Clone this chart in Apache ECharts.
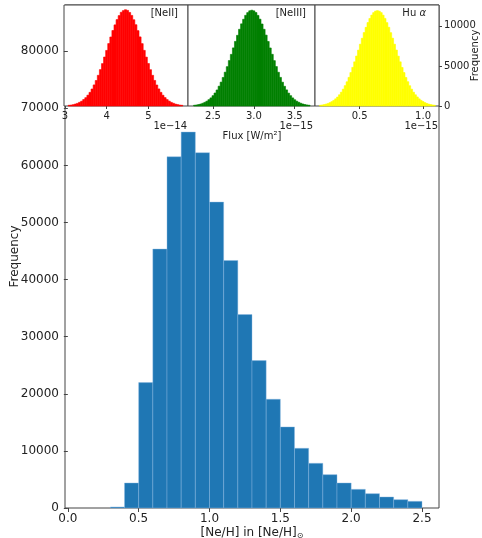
<!DOCTYPE html>
<html>
<head>
<meta charset="utf-8">
<script src="https://cdn.jsdelivr.net/npm/echarts@6/dist/echarts.min.js"></script>
<style>
  html, body { margin: 0; padding: 0; background: #fff; }
  #chart { width: 482px; height: 538px; }
</style>
</head>
<body>
<div id="chart"></div>
<script>
// Neon abundance posterior, [Ne/H] in solar units (bins of 0.1 starting at 0.3)
const abundanceBinStart = 0.3;
const abundanceBinWidth = 0.1;
const abundanceCounts = [180, 4380, 21960, 45350, 61520, 65850, 62230, 53580, 43350, 33890, 25820,
  19050, 14200, 10460, 7830, 5840, 4380, 3270, 2510, 1930, 1460, 1170];
const abundanceTicks = [0, 0.5, 1.0, 1.5, 2.0, 2.5];
const frequencyTicks = [0, 10000, 20000, 30000, 40000, 50000, 60000, 70000, 80000];

// Flux samples of [NeII], units of 1e-14 W/m^2
const neIIBinStart = 3.075;
const neIIBinWidth = 0.05;
const neIICounts = [90, 120, 170, 250, 330, 460, 600, 810, 1040, 1350, 1700, 2120, 2630, 3180, 3830,
  4540, 5290, 6110, 6930, 7790, 8610, 9420, 10120, 10780, 11280, 11690, 11900, 12010, 11930, 11670,
  11300, 10760, 10140, 9400, 8620, 7780, 6940, 6100, 5300, 4530, 3830, 3190, 2620, 2130, 1700, 1340,
  1050, 800, 610, 450, 340, 240, 180, 120, 90];
const neIITicks = [3, 4, 5];

// Flux samples of [NeIII], units of 1e-15 W/m^2
const neIIIBinStart = 2.2625;
const neIIIBinWidth = 0.025;
const neIIICounts = [95, 130, 185, 250, 340, 455, 600, 790, 1010, 1290, 1620, 2000, 2470, 2980, 3560,
  4220, 4910, 5670, 6440, 7250, 8060, 8820, 9570, 10250, 10820, 11310, 11650, 11880, 11950, 11870,
  11660, 11300, 10830, 10230, 9570, 8840, 8050, 7240, 6450, 5660, 4920, 4210, 3570, 2970, 2460, 2010,
  1610, 1290, 1010, 780, 600, 460, 340, 250, 180, 130, 95];
const neIIITicks = [2.5, 3.0, 3.5];

// Flux samples of the hydrogen line, units of 1e-15 W/m^2
const hLineBinStart = 0.1825;
const hLineBinWidth = 0.015;
const hLineCounts = [95, 130, 180, 240, 320, 420, 545, 700, 895, 1120, 1400, 1725, 2100, 2540, 3020,
  3570, 4170, 4820, 5510, 6230, 6970, 7710, 8450, 9160, 9810, 10410, 10920, 11340, 11650, 11840, 11900,
  11830, 11650, 11330, 10930, 10400, 9820, 9150, 8460, 7710, 6980, 6220, 5510, 4810, 4170, 3560, 3030,
  2530, 2100, 1720, 1400, 1130, 890, 700, 550, 420, 320, 240, 180, 130, 95];
const hLineTicks = [0.5, 1.0];
const insetFrequencyTicks = [0, 5000, 10000];

// [left edge, right edge, count] rows for the histogram renderer
function toBins(start, width, counts) {
  return counts.map((c, i) => [start + i * width, start + (i + 1) * width, c]);
}

function renderBin(params, api) {
  const top = api.coord([api.value(0), api.value(2)]);
  const base = api.coord([api.value(1), 0]);
  return {
    type: 'rect',
    shape: { x: top[0], y: top[1], width: base[0] - top[0], height: base[1] - top[1] },
    style: api.style()
  };
}

const FONT = 'DejaVu Sans';
const TXT = '#222';
const FRAME = '#444';
const plain = v => String(v);

function tickCfg(values, len) {
  return { show: true, customValues: values, length: len, lineStyle: { color: FRAME, width: 1 } };
}

function insetX(idx, min, max, ticks, fmt) {
  return {
    type: 'value', gridIndex: idx, min: min, max: max,
    axisLine: { show: false }, splitLine: { show: false },
    axisTick: tickCfg(ticks, 3),
    axisLabel: { customValues: ticks, formatter: fmt, fontSize: 10, fontFamily: FONT, color: TXT, margin: 5 }
  };
}

function frame(left, top, width, height, bg) {
  return {
    left: left, top: top, width: width, height: height,
    show: true, borderColor: FRAME, borderWidth: 1, backgroundColor: bg,
    outerBoundsMode: 'none', containLabel: false
  };
}

function insetSeries(idx, color, start, width, counts) {
  return {
    type: 'custom', xAxisIndex: idx, yAxisIndex: idx, silent: true,
    renderItem: renderBin, encode: { x: [0, 1], y: 2 },
    itemStyle: { color: color, borderColor: color, borderWidth: 0.6 },
    data: toBins(start, width, counts)
  };
}

const chart = echarts.init(document.getElementById('chart'), null, { renderer: 'canvas' });

chart.setOption({
  animation: false,
  backgroundColor: '#fff',
  textStyle: { fontFamily: FONT },
  grid: [
    frame(65, 5, 374, 503, 'transparent'),
    frame(64, 5, 124, 101, '#fff'),
    frame(188, 5, 127, 101, '#fff'),
    frame(315, 5, 124, 101, '#fff')
  ],
  xAxis: [
    {
      type: 'value', gridIndex: 0, min: -0.02, max: 2.62,
      axisLine: { show: false }, splitLine: { show: false },
      axisTick: tickCfg(abundanceTicks, 4),
      axisLabel: { customValues: abundanceTicks, formatter: v => v.toFixed(1), fontSize: 12, fontFamily: FONT, color: TXT, margin: 5 },
      name: '[Ne/H] in [Ne/H]{s|⊙}',
      nameLocation: 'middle', nameGap: 18, nameMoveOverlap: false,
      nameTextStyle: {
        fontSize: 12, fontFamily: FONT, color: TXT,
        rich: { s: { fontSize: 8, fontFamily: FONT, color: TXT, padding: [6, 0, 0, 0] } }
      }
    },
    insetX(1, 2.976, 5.95, neIITicks, plain),
    insetX(2, 2.194, 3.748, neIIITicks, v => v.toFixed(1)),
    insetX(3, 0.147, 1.126, hLineTicks, v => v.toFixed(1))
  ],
  yAxis: [
    {
      type: 'value', gridIndex: 0, min: 0, max: 88100,
      axisLine: { show: false }, splitLine: { show: false },
      axisTick: tickCfg(frequencyTicks, 4),
      axisLabel: { customValues: frequencyTicks, formatter: plain, fontSize: 12, fontFamily: FONT, color: TXT, margin: 6 },
      name: 'Frequency', nameLocation: 'middle', nameGap: 44, nameRotate: 90, nameMoveOverlap: false,
      nameTextStyle: { fontSize: 12, fontFamily: FONT, color: TXT }
    },
    { type: 'value', gridIndex: 1, min: 0, max: 12600, show: false },
    { type: 'value', gridIndex: 2, min: 0, max: 12600, show: false },
    {
      type: 'value', gridIndex: 3, min: 0, max: 12600, position: 'right',
      axisLine: { show: false }, splitLine: { show: false },
      axisTick: tickCfg(insetFrequencyTicks, 3),
      axisLabel: { customValues: insetFrequencyTicks, formatter: plain, fontSize: 10, fontFamily: FONT, color: TXT, margin: 5 },
      name: 'Frequency', nameLocation: 'middle', nameGap: 31, nameRotate: 90, nameMoveOverlap: false,
      nameTextStyle: { fontSize: 10, fontFamily: FONT, color: TXT }
    }
  ],
  series: [
    {
      type: 'custom', xAxisIndex: 0, yAxisIndex: 0, silent: true,
      renderItem: renderBin, encode: { x: [0, 1], y: 2 },
      itemStyle: { color: '#1f77b4', borderColor: 'rgba(140,185,225,0.7)', borderWidth: 0.6 },
      data: toBins(abundanceBinStart, abundanceBinWidth, abundanceCounts)
    },
    insetSeries(1, '#ff0000', neIIBinStart, neIIBinWidth, neIICounts),
    insetSeries(2, '#008000', neIIIBinStart, neIIIBinWidth, neIIICounts),
    insetSeries(3, '#ffff00', hLineBinStart, hLineBinWidth, hLineCounts)
  ],
  graphic: [
    { type: 'text', x: 178, y: 13, z: 100, style: { text: '[NeII]', align: 'right', verticalAlign: 'middle', font: '10px "DejaVu Sans"', fill: TXT } },
    { type: 'text', x: 306, y: 13, z: 100, style: { text: '[NeIII]', align: 'right', verticalAlign: 'middle', font: '10px "DejaVu Sans"', fill: TXT } },
    { type: 'text', x: 426, y: 13, z: 100, style: { text: 'Hu {i|α}', align: 'right', verticalAlign: 'middle', font: '10px "DejaVu Sans"', fill: TXT, rich: { i: { fontStyle: 'italic', fontSize: 10, fontFamily: FONT, fill: TXT } } } },
    { type: 'text', x: 187, y: 126, z: 100, style: { text: '1e\u221214', align: 'right', verticalAlign: 'middle', font: '10px "DejaVu Sans"', fill: TXT } },
    { type: 'text', x: 313, y: 126, z: 100, style: { text: '1e\u221215', align: 'right', verticalAlign: 'middle', font: '10px "DejaVu Sans"', fill: TXT } },
    { type: 'text', x: 438, y: 126, z: 100, style: { text: '1e\u221215', align: 'right', verticalAlign: 'middle', font: '10px "DejaVu Sans"', fill: TXT } },
    { type: 'text', x: 252, y: 136, z: 100, style: { text: 'Flux [W/m²]', align: 'center', verticalAlign: 'middle', font: '10px "DejaVu Sans"', fill: TXT } }
  ]
});
</script>
</body>
</html>
